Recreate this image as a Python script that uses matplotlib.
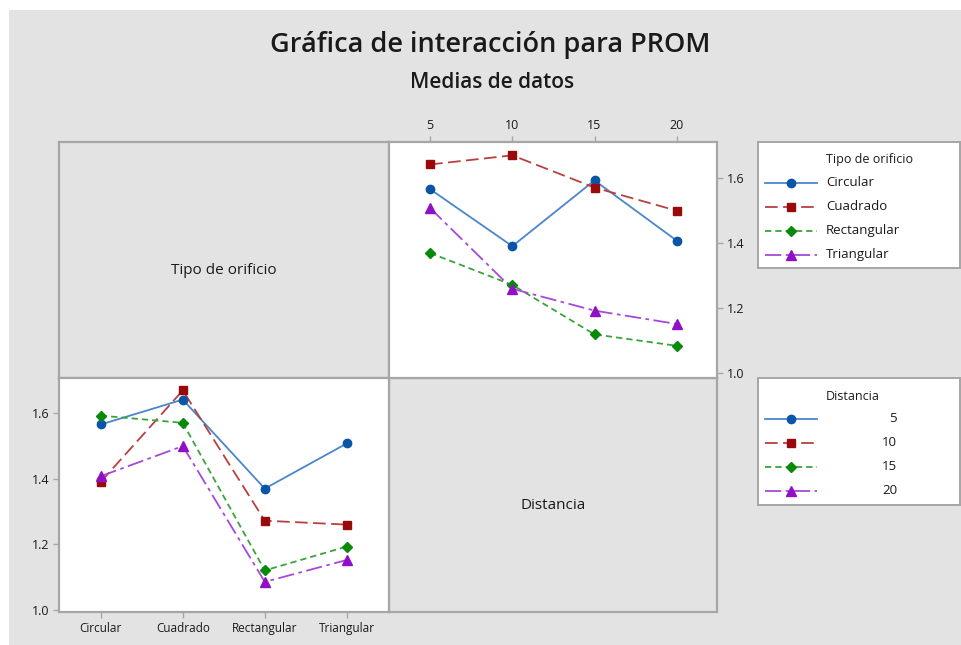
import matplotlib
matplotlib.use("Agg")
import matplotlib.pyplot as plt
from matplotlib.patches import Rectangle
from matplotlib.lines import Line2D

plt.rcParams['font.family'] = ['Open Sans', 'DejaVu Sans']

# ---------------- data ----------------
distancias = [5, 10, 15, 20]
tipos = ["Circular", "Cuadrado", "Rectangular", "Triangular"]
# mean PROM for each Tipo de orificio across Distancia 5,10,15,20
prom_circular = [1.566, 1.391, 1.593, 1.408]
prom_cuadrado = [1.642, 1.670, 1.571, 1.500]
prom_rectangular = [1.370, 1.272, 1.120, 1.085]
prom_triangular = [1.508, 1.260, 1.193, 1.152]
yticks_vals = [1.0, 1.2, 1.4, 1.6]

title = "Gráfica de interacción para PROM"
subtitle = "Medias de datos"

# ---------------- styles ----------------
marker_cols = ["#0a55a8", "#9a0a0a", "#078a07", "#9010c8"]
line_cols = ["#4a86cc", "#b84040", "#3aa43a", "#a848d8"]
markers = ["o", "s", "D", "^"]
msizes = [6.0, 6.0, 5.6, 6.8]
dashes = ["-", (0, (7, 3)), (0, (3.5, 2.2)), (0, (9, 2.5, 2, 2.5))]

W, H = 962, 645
fig = plt.figure(figsize=(W / 100, H / 100), dpi=100)
fig.patch.set_facecolor("white")
fig.add_artist(Rectangle((9 / W, 0), 1 - 9 / W, 1 - 10 / H, transform=fig.transFigure,
                         facecolor="#e3e3e3", edgecolor="none", zorder=-10))


def px(x0, y0, x1, y1):
    return [x0 / W, 1 - y1 / H, (x1 - x0) / W, (y1 - y0) / H]


GRAY = "#e3e3e3"
SP = "#a6a6a6"
TXT = "#1a1a1a"


def style_spines(ax, face):
    ax.set_facecolor(face)
    for s in ax.spines.values():
        s.set_color(SP)
        s.set_linewidth(1.6)


series = [prom_circular, prom_cuadrado, prom_rectangular, prom_triangular]

# top-left label panel
ax_tl = fig.add_axes(px(59, 142, 389, 378))
style_spines(ax_tl, GRAY)
ax_tl.set_xticks([]); ax_tl.set_yticks([])
ax_tl.text(0.5, 0.455, "Tipo de orificio", transform=ax_tl.transAxes, ha="center", va="center",
           fontsize=11, color=TXT)

# bottom-right label panel
ax_br = fig.add_axes(px(389, 378, 717, 612))
style_spines(ax_br, GRAY)
ax_br.set_xticks([]); ax_br.set_yticks([])
ax_br.text(0.5, 0.455, "Distancia", transform=ax_br.transAxes, ha="center", va="center",
           fontsize=11, color=TXT)

# top-right: x = Distancia, lines = Tipo
ax_tr = fig.add_axes(px(389, 142, 717, 378))
style_spines(ax_tr, "white")
xpos = list(range(len(distancias)))
for i, vals in enumerate(series):
    ax_tr.plot(xpos, vals, linestyle=dashes[i], color=line_cols[i], lw=1.3, zorder=2)
    ax_tr.plot(xpos, vals, linestyle="none", marker=markers[i], ms=msizes[i],
               color=marker_cols[i], zorder=3)
ax_tr.set_xlim(-0.5, 3.49)
ax_tr.set_ylim(0.986, 1.711)
ax_tr.set_xticks(xpos)
ax_tr.set_xticklabels([str(d) for d in distancias])
ax_tr.set_yticks(yticks_vals)
ax_tr.set_yticklabels([f"{v:.1f}" for v in yticks_vals])
ax_tr.xaxis.tick_top()
ax_tr.yaxis.tick_right()
ax_tr.tick_params(axis="both", length=4, width=1, color=SP, labelsize=9, labelcolor=TXT, pad=3)

# bottom-left: x = Tipo, lines = Distancia
ax_bl = fig.add_axes(px(59, 378, 389, 612))
style_spines(ax_bl, "white")
xpos2 = list(range(len(tipos)))
for j in range(len(distancias)):
    vals = [series[k][j] for k in range(len(tipos))]
    ax_bl.plot(xpos2, vals, linestyle=dashes[j], color=line_cols[j], lw=1.3, zorder=2)
    ax_bl.plot(xpos2, vals, linestyle="none", marker=markers[j], ms=msizes[j],
               color=marker_cols[j], zorder=3)
ax_bl.set_xlim(-0.51, 3.515)
ax_bl.set_ylim(0.993, 1.708)
ax_bl.set_xticks(xpos2)
ax_bl.set_xticklabels(tipos)
ax_bl.set_yticks(yticks_vals)
ax_bl.set_yticklabels([f"{v:.1f}" for v in yticks_vals])
ax_bl.tick_params(axis="both", length=4, width=1, color=SP, labelsize=9, labelcolor=TXT, pad=3)
ax_bl.tick_params(axis="x", labelsize=8.5)


# legends (manual, in pixel coordinates of the legend box)
def legend_box(y0, y1, title_txt, labels, right_align):
    lax = fig.add_axes(px(758, y0, 960, y1))
    lax.set_xlim(758, 960)
    lax.set_ylim(y1, y0)
    lax.set_xticks([]); lax.set_yticks([])
    lax.set_facecolor("white")
    for s in lax.spines.values():
        s.set_color(SP); s.set_linewidth(1.4)
    lax.text(826, y0 + 18, title_txt, ha="left", va="center", fontsize=9, color=TXT)
    for i, lab in enumerate(labels):
        yy = y0 + 41 + i * 24
        lax.add_line(Line2D([765, 817], [yy, yy], linestyle=dashes[i], color=line_cols[i], lw=1.3))
        lax.add_line(Line2D([791], [yy], linestyle="none", marker=markers[i], ms=msizes[i],
                            color=marker_cols[i]))
        if right_align:
            lax.text(897, yy, lab, ha="right", va="center", fontsize=9.5, color=TXT)
        else:
            lax.text(826, yy, lab, ha="left", va="center", fontsize=9.5, color=TXT)


legend_box(142, 268, "Tipo de orificio", tipos, False)
legend_box(378, 505, "Distancia", [str(d) for d in distancias], True)

fig.text(490 / W, 1 - 45 / H, title, ha="center", va="center", fontsize=19.5,
         fontweight="semibold", color=TXT)
fig.text(492 / W, 1 - 82 / H, subtitle, ha="center", va="center", fontsize=15,
         fontweight="semibold", color=TXT)

fig.savefig("out.png", dpi=100, facecolor=fig.get_facecolor())
